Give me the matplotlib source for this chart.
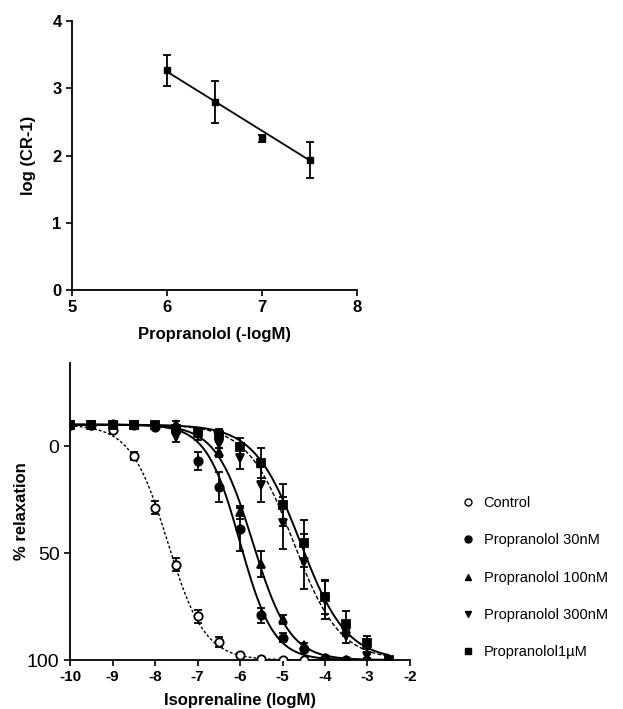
import matplotlib
matplotlib.use('Agg')
import numpy as np
import matplotlib.pyplot as plt
from matplotlib.lines import Line2D

plt.rcParams['font.family'] = ['Liberation Sans', 'DejaVu Sans']
plt.rcParams['axes.unicode_minus'] = False

# ---- top panel: Schild plot ----
schild_x = [6.0, 6.5, 7.0, 7.5]
schild_y = [3.27, 2.80, 2.26, 1.93]
schild_err = [0.23, 0.31, 0.05, 0.27]
schild_fit_x = [6.0, 7.5]
schild_fit_y = [3.25, 1.93]

# ---- bottom panel: isoprenaline concentration-response ----
ctrl_x = [-10, -9.5, -9, -8.5, -8, -7.5, -7, -6.5, -6, -5.5, -5, -4.5, -4]
ctrl_y = [-10, -10, -7.5, 4.7, 28.8, 55.5, 79.5, 91.6, 97.5, 99.5, 100, 100, 100]
ctrl_e = [0, 0, 0, 2, 3, 3, 3, 2.5, 1, 0, 0, 0, 0]

p30_x = [-10, -9.5, -9, -8.5, -8, -7.5, -7, -6.5, -6, -5.5, -5, -4.5, -4, -3.5]
p30_y = [-10, -10, -10.5, -10, -9, -7.5, 7, 19, 39, 79, 89.5, 95, 99, 100]
p30_e = [0, 0, 0, 0, 0, 1, 4, 7, 10, 3.5, 2, 1, 0, 0]

p100_x = [-10, -9.5, -9, -8.5, -8, -7.5, -7, -6.5, -6, -5.5, -5, -4.5, -4, -3.5]
p100_y = [-10, -10, -10, -10, -10, -10.5, -6, 3, 31, 55, 81, 93, 99, 100]
p100_e = [0, 0, 0, 0, 0, 1, 2, 2, 3, 6, 2, 1, 0, 0]

p300_x = [-10, -9.5, -9, -8.5, -8, -7.5, -7, -6.5, -6, -5.5, -5, -4.5, -4, -3.5, -3]
p300_y = [-10, -10, -10, -10, -9.5, -4, -5, -1, 5.8, 18, 36, 54, 72, 89, 98]
p300_e = [0, 0, 0, 0, 0, 2, 2, 2, 5, 8, 12, 13, 9, 3, 1]

p1u_x = [-10, -9.5, -9, -8.5, -8, -7.5, -7, -6.5, -6, -5.5, -5, -4.5, -4, -3.5, -3, -2.5]
p1u_y = [-10, -10, -10, -10, -10, -8, -6.5, -5, 0.3, 8, 27.6, 45.5, 70.4, 83, 92, 100]
p1u_e = [0, 0, 0, 0, 0, 1, 2, 3, 4, 7, 10, 11, 8, 6, 3, 0]

# fitted sigmoid parameters (logEC50, Hill slope)
fit_top, fit_bottom = -10, 100
fits = {'ctrl': (-7.7, 1.0), 'p30': (-6.0, 1.1), 'p100': (-5.7, 1.0),
        'p300': (-4.74, 0.8), 'p1u': (-4.58, 0.8)}

labels = ['Control', 'Propranolol 30nM', 'Propranolol 100nM',
          'Propranolol 300nM', 'Propranolol1\u00b5M']


def sigmoid(x, ec50, hill):
    return fit_top + (fit_bottom - fit_top) / (1 + 10 ** ((ec50 - x) * hill))


fig = plt.figure(figsize=(6.23, 7.09), dpi=100)

# ---------------- top panel ----------------
ax1 = fig.add_axes([0.1156, 0.591, 0.4575, 0.379])
ax1.plot(schild_fit_x, schild_fit_y, color='k', lw=1.3)
ax1.errorbar(schild_x, schild_y, yerr=schild_err, fmt='s', color='k', ms=5,
             capsize=3, elinewidth=1.3, capthick=1.3)
ax1.set_xlim(5, 8)
ax1.set_ylim(0, 4)
ax1.set_xticks([5, 6, 7, 8])
ax1.set_yticks([0, 1, 2, 3, 4])
ax1.spines['top'].set_visible(False)
ax1.spines['right'].set_visible(False)
for s in ['left', 'bottom']:
    ax1.spines[s].set_linewidth(1.3)
ax1.tick_params(direction='out', length=4, width=1.2, labelsize=12)
for t in ax1.get_xticklabels() + ax1.get_yticklabels():
    t.set_fontweight('bold')
ax1.set_xlabel('Propranolol (-logM)', fontsize=12, fontweight='bold', labelpad=8)
ax1.set_ylabel('log (CR-1)', fontsize=12, fontweight='bold')
ax1.yaxis.set_label_coords(-0.125, 0.5)

# ---------------- bottom panel ----------------
ax2 = fig.add_axes([0.1124, 0.0691, 0.5457, 0.4189])
xs = np.linspace(-10, -2.5, 300)
series = [
    ('ctrl', ctrl_x, ctrl_y, ctrl_e, 'o', 'white', (0, (2, 1.5)), 1.0),
    ('p30', p30_x, p30_y, p30_e, 'o', 'k', '-', 1.4),
    ('p100', p100_x, p100_y, p100_e, '^', 'k', '-', 1.4),
    ('p300', p300_x, p300_y, p300_e, 'v', 'k', (0, (3, 1.5)), 1.0),
    ('p1u', p1u_x, p1u_y, p1u_e, 's', 'k', '-', 1.4),
]
handles = []
for key, x, y, e, mk, fc, ls, lw in series:
    ec50, hill = fits[key]
    ax2.plot(xs, sigmoid(xs, ec50, hill), color='k', ls=ls, lw=lw, zorder=2)
    ax2.errorbar(x, y, yerr=e, fmt=mk, mfc=fc, mec='k', color='k', ms=6,
                 mew=1.3, capsize=3, elinewidth=1.3, capthick=1.3, zorder=3)
    handles.append(Line2D([], [], marker=mk, ls='none', mfc=fc, mec='k', ms=5, mew=1.0))

ax2.set_xlim(-10, -2)
ax2.set_ylim(100, -38.8)
ax2.set_xticks([-10, -9, -8, -7, -6, -5, -4, -3, -2])
ax2.set_yticks([0, 50, 100])
ax2.spines['top'].set_visible(False)
ax2.spines['right'].set_visible(False)
for s in ['left', 'bottom']:
    ax2.spines[s].set_linewidth(1.3)
ax2.tick_params(axis='x', direction='out', length=4, width=1.2, labelsize=11)
ax2.tick_params(axis='y', direction='out', length=4, width=1.2, labelsize=14)
for t in ax2.get_xticklabels():
    t.set_fontweight('bold')
ax2.set_xlabel('Isoprenaline (logM)', fontsize=12, fontweight='bold', labelpad=6)
ax2.set_ylabel('% relaxation', fontsize=12, fontweight='bold')
ax2.yaxis.set_label_coords(-0.12, 0.5)

fig.legend(handles, labels, loc='upper left', bbox_to_anchor=(0.72, 0.319),
           bbox_transform=fig.transFigure, frameon=False, fontsize=10.5,
           handlelength=0.8, handletextpad=0.7, labelspacing=1.6)

fig.savefig('out.png', dpi=100)
